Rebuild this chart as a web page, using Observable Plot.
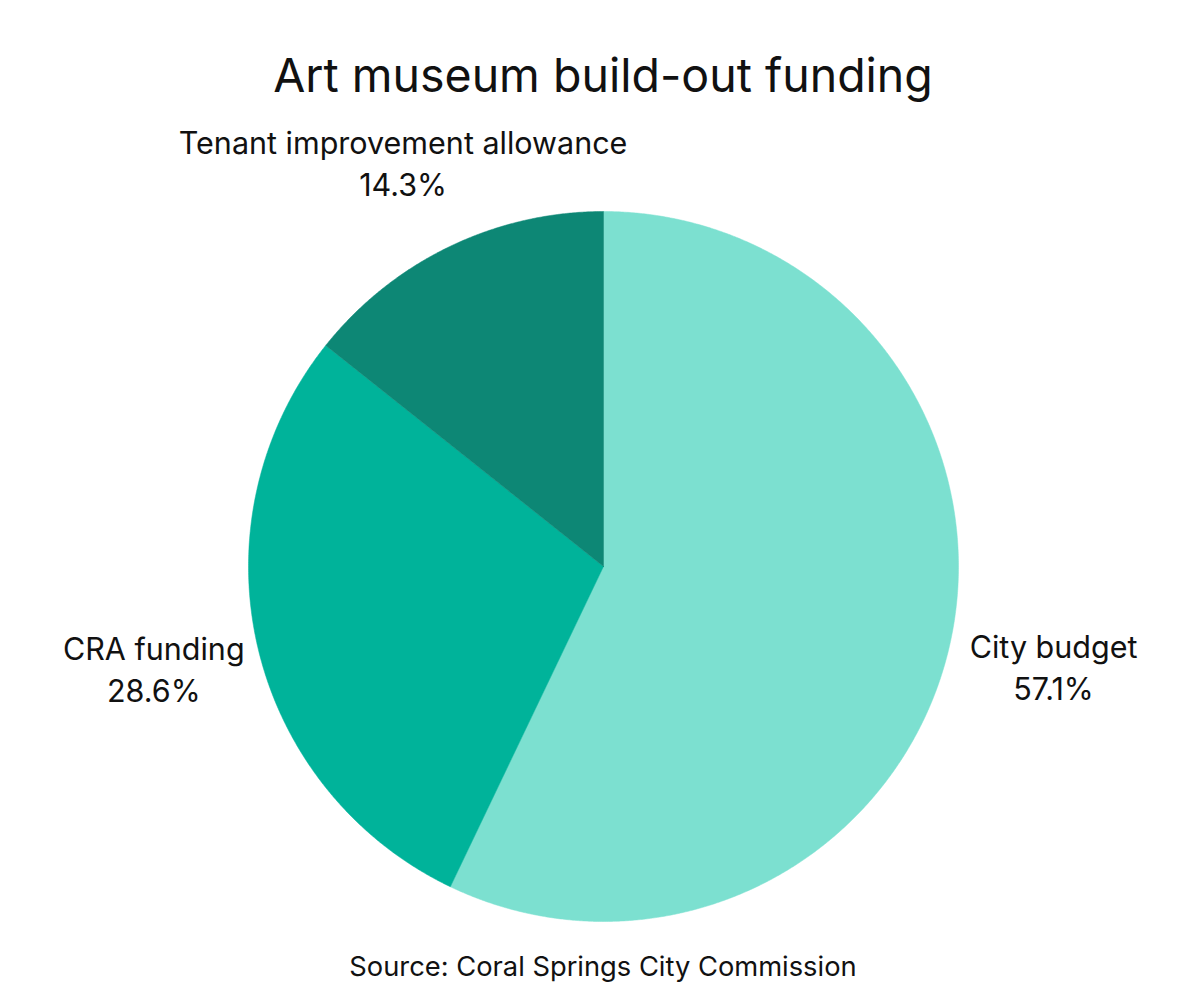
<!DOCTYPE html>
<html>
<head>
<meta charset="utf-8">
<script src="https://cdn.jsdelivr.net/npm/d3@7"></script>
<script src="https://cdn.jsdelivr.net/npm/@observablehq/plot@0.6"></script>
<style>
  html, body { margin: 0; padding: 0; background: #fff; }
  body { width: 1200px; font-family: Inter, "Noto Sans", sans-serif; color: #111; }
  #title { height: 120px; text-align: center; font-size: 46.5px; line-height: 150px; font-weight: 400; padding-left: 6px; white-space: nowrap; }
  #caption { text-align: center; font-size: 27.3px; margin-top: 10px; padding-left: 6px; }
  svg { display: block; }
</style>
</head>
<body>
<div id="title">Art museum build-out funding</div>
<div id="chart"></div>
<div id="caption">Source: Coral Springs City Commission</div>
<script>
const categories = ["City budget", "CRA funding", "Tenant improvement allowance"];
const values = [57.1, 28.6, 14.3];
const colors = ["#7ce0d0", "#00b39a", "#0d8775"];

const arcs = d3.pie().sort(null).value(d => d.value).startAngle(0).endAngle(2 * Math.PI)(
  categories.map((name, i) => ({name, value: values[i]}))
);

// polygon outline of each slice (center + arc), in unit-circle coordinates
const slicePts = [];
for (const a of arcs) {
  const n = Math.max(2, Math.ceil((a.endAngle - a.startAngle) / 0.005));
  slicePts.push({name: a.data.name, x: 0, y: 0});
  for (let k = 0; k <= n; k++) {
    const t = a.startAngle + (a.endAngle - a.startAngle) * k / n;
    slicePts.push({name: a.data.name, x: Math.sin(t), y: Math.cos(t)});
  }
  slicePts.push({name: a.data.name, x: 0, y: 0});
}

const labelRx = 1.30, labelRy = 1.265;
const labels = arcs.map(a => {
  const m = (a.startAngle + a.endAngle) / 2;
  return {name: a.data.name, pct: a.data.value.toFixed(1) + "%", x: labelRx * Math.sin(m), y: labelRy * Math.cos(m)};
});

const chart = Plot.plot({
  width: 1200,
  height: 820,
  margin: 0,
  x: {domain: [-1, 1], range: [248, 958], axis: null},
  y: {domain: [-1, 1], range: [801, 91], axis: null},
  color: {domain: categories, range: colors},
  style: {fontFamily: "Inter, 'Noto Sans', sans-serif", background: "#fff", overflow: "visible"},
  marks: [
    Plot.line(slicePts, {x: "x", y: "y", z: "name", fill: "name", stroke: "name", strokeWidth: 0.5, curve: "linear"}),
    Plot.text(labels, {x: "x", y: "y", text: d => d.name + "\n" + d.pct, fontSize: 30.5, lineHeight: 1.38, fill: "#111", textAnchor: "middle", lineAnchor: "middle"})
  ]
});
document.getElementById("chart").appendChild(chart);
</script>
</body>
</html>
